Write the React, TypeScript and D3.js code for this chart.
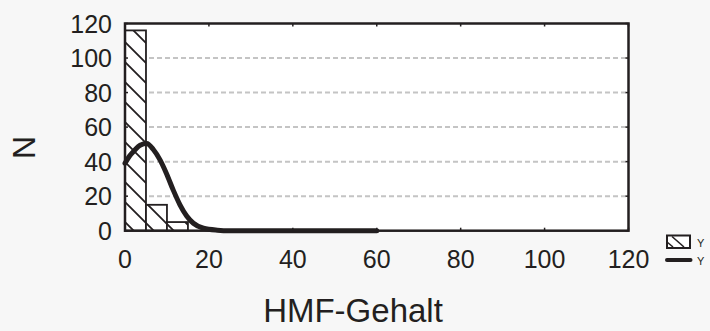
import { useEffect, useRef } from "react";
import * as d3 from "d3";

// histogram bins (width 5) and counts
const binStarts = [0, 5, 10, 15, 20, 25, 30, 35, 40, 45, 50, 55];
const binCounts = [116, 15, 5, 0, 0, 0, 0, 0, 0, 0, 0, 0];
const binWidth = 5;

// fitted curve
const curveX = [0, 1, 2.3, 3.6, 5.2, 6.75, 8.35, 9.9, 11.5, 13.1, 14.7, 16.3, 18.7, 22, 25, 40, 60];
const curveY = [39, 43, 46.6, 49.5, 50.5, 47, 41, 33, 23.5, 15, 8.5, 4.3, 1.4, 0.3, 0, 0, 0];

const xTicks = [0, 20, 40, 60, 80, 100, 120];
const yTicks = [0, 20, 40, 60, 80, 100, 120];

const xLabel = "HMF-Gehalt";
const yLabel = "N";
const legendLabels = ["Y", "Y"];

const W = 710;
const H = 331;
const INK = "#231f20";
const FONT = "'Liberation Sans', Arial, sans-serif";

export default function App() {
  const svgRef = useRef<SVGSVGElement>(null);

  useEffect(() => {
    if (!svgRef.current) return;
    const margin = { top: 23.5, right: W - 628.5, bottom: H - 230.7, left: 125 };
    const width = W - margin.left - margin.right;
    const height = H - margin.top - margin.bottom;

    const svg = d3.select(svgRef.current);
    svg.selectAll("*").remove();

    // hatch pattern
    const defs = svg.append("defs");
    const pat = defs
      .append("pattern")
      .attr("id", "hatch")
      .attr("patternUnits", "userSpaceOnUse")
      .attr("width", 20)
      .attr("height", 20)
      .attr("patternTransform", `translate(${margin.left},${margin.top})`);
    pat.append("rect").attr("width", 20).attr("height", 20).attr("fill", "#fff");
    pat
      .append("path")
      .attr("d", "M-5,-5L25,25M-5,15L5,25M15,-5L25,5")
      .attr("stroke", INK)
      .attr("stroke-width", 1.8);

    svg.append("rect").attr("width", W).attr("height", H).attr("fill", "#f7f7f7");

    const g = svg.append("g").attr("transform", `translate(${margin.left},${margin.top})`);

    const x = d3.scaleLinear().domain([0, 120]).range([0, width]);
    const y = d3.scaleLinear().domain([0, 120]).range([height, 0]);

    g.append("rect").attr("width", width).attr("height", height).attr("fill", "#fff");

    // gridlines
    g.selectAll("line.grid")
      .data(yTicks.filter((t) => t > 0 && t < 120))
      .join("line")
      .attr("class", "grid")
      .attr("x1", 0)
      .attr("x2", width)
      .attr("y1", (d) => y(d))
      .attr("y2", (d) => y(d))
      .attr("stroke", "#c4c4c4")
      .attr("stroke-width", 2)
      .attr("stroke-dasharray", "5 3");

    // bars
    g.selectAll("rect.bar")
      .data(binStarts.map((s, i) => ({ s, c: binCounts[i] })))
      .join("rect")
      .attr("class", "bar")
      .attr("x", (d) => x(d.s))
      .attr("width", (d) => x(d.s + binWidth) - x(d.s))
      .attr("y", (d) => y(d.c))
      .attr("height", (d) => y(0) - y(d.c))
      .attr("fill", "url(#hatch)")
      .attr("stroke", INK)
      .attr("stroke-width", 1.8);

    // curve
    const line = d3
      .line<number>()
      .x((d) => x(d))
      .y((_, i) => y(curveY[i]))
      .curve(d3.curveMonotoneX);
    g.append("path")
      .attr("d", line(curveX))
      .attr("fill", "none")
      .attr("stroke", INK)
      .attr("stroke-width", 5)
      .attr("stroke-linecap", "round");

    // frame
    g.append("rect")
      .attr("width", width)
      .attr("height", height)
      .attr("fill", "none")
      .attr("stroke", INK)
      .attr("stroke-width", 2.5);

    // inward ticks on all sides
    const tk = 3;
    xTicks.forEach((t) => {
      g.append("line").attr("x1", x(t)).attr("x2", x(t)).attr("y1", height).attr("y2", height - tk).attr("stroke", INK).attr("stroke-width", 1.5);
      g.append("line").attr("x1", x(t)).attr("x2", x(t)).attr("y1", 0).attr("y2", tk).attr("stroke", INK).attr("stroke-width", 1.5);
    });
    yTicks.forEach((t) => {
      g.append("line").attr("x1", 0).attr("x2", tk).attr("y1", y(t)).attr("y2", y(t)).attr("stroke", INK).attr("stroke-width", 1.5);
      g.append("line").attr("x1", width).attr("x2", width - tk).attr("y1", y(t)).attr("y2", y(t)).attr("stroke", INK).attr("stroke-width", 1.5);
    });

    // tick labels
    g.selectAll("text.xt")
      .data(xTicks)
      .join("text")
      .attr("class", "xt")
      .attr("x", (d) => x(d))
      .attr("y", height + 37)
      .attr("text-anchor", "middle")
      .style("font-family", FONT)
      .style("font-size", "25px")
      .attr("fill", INK)
      .text((d) => d);

    g.selectAll("text.yt")
      .data(yTicks)
      .join("text")
      .attr("class", "yt")
      .attr("x", -13)
      .attr("y", (d) => y(d) + 9)
      .attr("text-anchor", "end")
      .style("font-family", FONT)
      .style("font-size", "25px")
      .attr("fill", INK)
      .text((d) => d);

    // axis titles
    svg.append("text")
      .attr("x", 353)
      .attr("y", 321.5)
      .attr("text-anchor", "middle")
      .style("font-family", FONT)
      .style("font-size", "33px")
      .attr("fill", INK)
      .text(xLabel);

    svg.append("text")
      .attr("transform", "translate(35,147.5) rotate(-90)")
      .attr("text-anchor", "middle")
      .style("font-family", FONT)
      .style("font-size", "32px")
      .attr("fill", INK)
      .text(yLabel);

    // legend
    const lg = svg.append("g");
    lg.append("rect")
      .attr("x", 667)
      .attr("y", 235.5)
      .attr("width", 23)
      .attr("height", 12.5)
      .attr("fill", "#fff")
      .attr("stroke", INK)
      .attr("stroke-width", 2);
    lg.append("line")
      .attr("x1", 672).attr("y1", 236.5).attr("x2", 684).attr("y2", 247)
      .attr("stroke", INK).attr("stroke-width", 1.6);
    lg.append("line")
      .attr("x1", 667).attr("y1", 242).attr("x2", 673).attr("y2", 247)
      .attr("stroke", INK).attr("stroke-width", 1.6);
    lg.append("line")
      .attr("x1", 667).attr("y1", 260).attr("x2", 690.5).attr("y2", 260)
      .attr("stroke", INK).attr("stroke-width", 4).attr("stroke-linecap", "round");
    legendLabels.forEach((l, i) => {
      lg.append("text")
        .attr("x", 697)
        .attr("y", 246.5 + i * 18)
        .style("font-family", FONT)
        .style("font-size", "11px")
        .attr("fill", INK)
        .text(l);
    });
  }, []);

  return (
    <svg
      ref={svgRef}
      width={W}
      height={H}
      style={{ position: "absolute", left: 0, top: 0, display: "block" }}
    />
  );
}
